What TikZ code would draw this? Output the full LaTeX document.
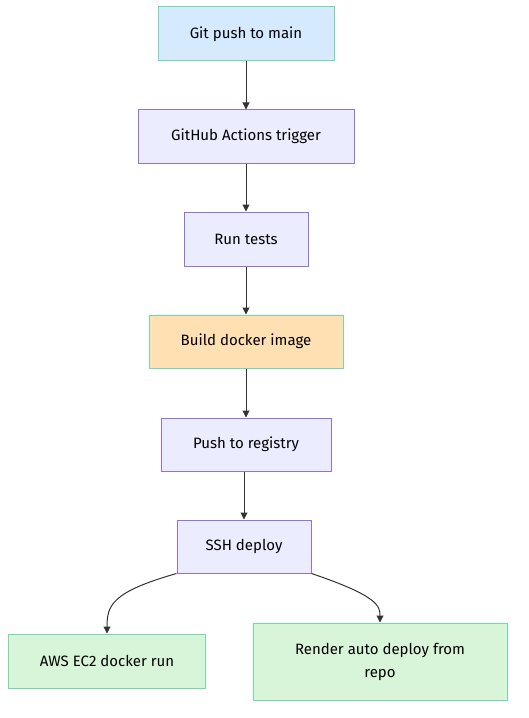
\documentclass[tikz,border=0pt]{standalone}
\usepackage{fontspec}
\setmainfont{Fira Sans}
\usetikzlibrary{arrows.meta}
\definecolor{edge}{HTML}{333333}
\definecolor{purpb}{HTML}{9370DB}
\definecolor{purpf}{HTML}{ECECFF}
\definecolor{grnb}{HTML}{6EDBA8}
\definecolor{bluef}{HTML}{D6EAFF}
\definecolor{peachf}{HTML}{FFE0B3}
\definecolor{grnf}{HTML}{D9F5D9}
\tikzset{
  x=1bp, y=-1bp,
  box/.style={draw, line width=1bp, inner sep=0pt, align=center, font=\fontsize{15bp}{23bp}\selectfont, text=black},
  plain/.style={box, draw=purpb, fill=purpf},
  start/.style={box, draw=grnb, fill=bluef},
  build/.style={box, draw=grnb, fill=peachf},
  final/.style={box, draw=grnb, fill=grnf},
  conn/.style={draw=edge, line width=1bp, -{Triangle[length=7bp,width=7bp]}}
}
\begin{document}
\begin{tikzpicture}
\useasboundingbox (0,0) rectangle (529,718);
\node[start, minimum width=176bp, minimum height=54bp] (git) at (246,34) {Git push to main};
\node[plain, minimum width=216bp, minimum height=53bp] (gha) at (246,136.5) {GitHub Actions trigger};
\node[plain, minimum width=124bp, minimum height=54bp] (tests) at (246,239) {Run tests};
\node[build, minimum width=194bp, minimum height=53bp] (build) at (246,341.5) {Build docker image};
\node[plain, minimum width=170bp, minimum height=53bp] (push) at (246,444.5) {Push to registry};
\node[plain, minimum width=134bp, minimum height=53bp] (ssh) at (244,546.5) {SSH deploy};
\node[final, minimum width=197bp, minimum height=54bp] (aws) at (107,661) {AWS EC2 docker run};
\node[final, minimum width=254bp, minimum height=77bp] (render) at (380,661.5) {Render auto deploy from\\repo};
\draw[conn] (git) -- (gha);
\draw[conn] (gha) -- (tests);
\draw[conn] (tests) -- (build);
\draw[conn] (build) -- (push);
\draw[conn] (push.south -| ssh.north) -- (ssh.north);
\draw[conn] (ssh.south west) .. controls (112,592) and (107,605) .. (aws.north);
\draw[conn] (ssh.south east) .. controls (378,596) and (380,606) .. (render.north);
\end{tikzpicture}
\end{document}
